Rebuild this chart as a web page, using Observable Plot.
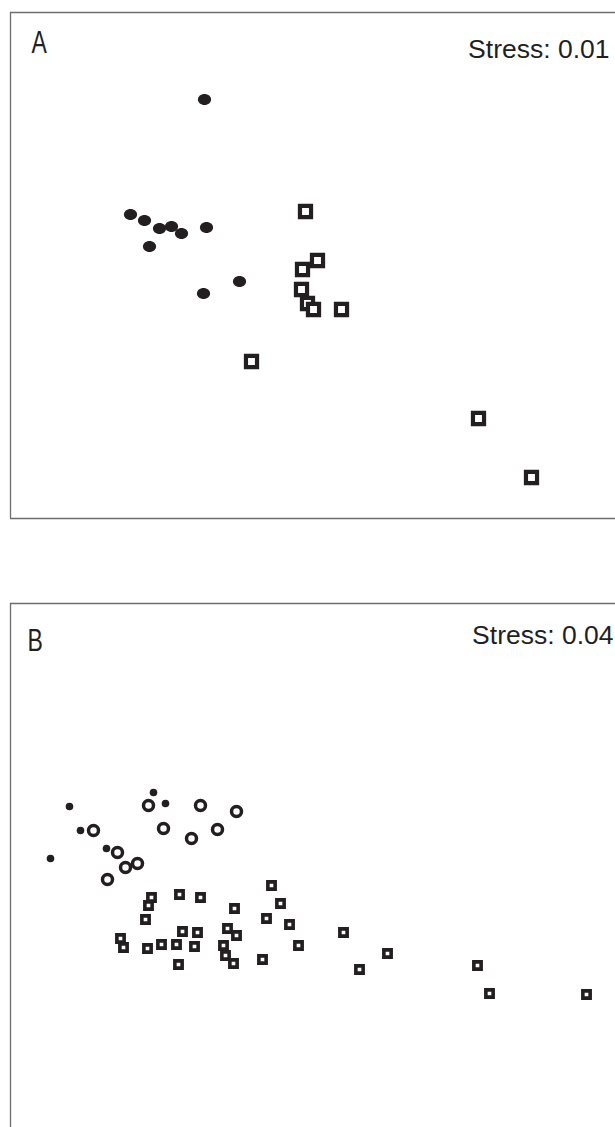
<!DOCTYPE html>
<html>
<head>
<meta charset="utf-8">
<script src="https://cdn.jsdelivr.net/npm/d3@7"></script>
<script src="https://cdn.jsdelivr.net/npm/@observablehq/plot@0.6"></script>
<style>
  html, body { margin: 0; padding: 0; background: #fff; }
  #chart svg { display: block; }
</style>
</head>
<body>
<div id="chart"></div>
<script>
// ---- Panel A (NMDS ordination, stress 0.01) ----
const panelALabel = "A";
const panelAStress = "Stress: 0.01";
const panelAFilled = [
  [-0.53, 0.83], [-0.90, 0.255], [-0.83, 0.225], [-0.755, 0.185], [-0.695, 0.195],
  [-0.645, 0.16], [-0.52, 0.19], [-0.805, 0.095], [-0.355, -0.08], [-0.535, -0.14]
];
const panelASquares = [
  [-0.025, 0.27], [0.035, 0.025], [-0.04, -0.02], [-0.045, -0.12], [-0.015, -0.19],
  [0.015, -0.22], [0.155, -0.22], [-0.295, -0.48], [0.84, -0.765], [1.105, -1.06]
];
const panelAXDomain = [-1.5, 1.525];
const panelAYDomain = [-1.265, 1.265];

// ---- Panel B (NMDS ordination, stress 0.04) ----
const panelBLabel = "B";
const panelBStress = "Stress: 0.04";
const panelBSmallDots = [
  [-1.205, 0.47], [-0.785, 0.54], [-0.725, 0.485], [-1.15, 0.35], [-1.30, 0.21], [-1.02, 0.26]
];
const panelBOpenCircles = [
  [-0.81, 0.475], [-0.55, 0.475], [-0.37, 0.445], [-1.085, 0.35], [-0.735, 0.36],
  [-0.465, 0.355], [-0.595, 0.31], [-0.965, 0.24], [-0.865, 0.185], [-0.925, 0.165],
  [-1.015, 0.105]
];
const panelBSquares = [
  [-0.795, 0.015], [-0.81, -0.025], [-0.825, -0.095], [-0.655, 0.03], [-0.55, 0.015],
  [-0.195, 0.075], [-0.38, -0.04], [-0.15, -0.015], [-0.22, -0.09], [-0.105, -0.12],
  [-0.64, -0.155], [-0.565, -0.16], [-0.415, -0.14], [-0.37, -0.175], [-0.95, -0.19],
  [-0.935, -0.235], [-0.815, -0.24], [-0.745, -0.22], [-0.67, -0.22], [-0.58, -0.23],
  [-0.435, -0.225], [-0.425, -0.275], [-0.385, -0.315], [-0.66, -0.32], [-0.24, -0.295],
  [-0.06, -0.225], [0.165, -0.16], [0.385, -0.265], [0.245, -0.345], [0.835, -0.325],
  [0.895, -0.465], [1.38, -0.47]
];
const panelBXDomain = [-1.5, 1.525];
const panelBYDomain = [-1.135, 1.485];

// ---- styles ----
const ink = "#231f20";
const frameGray = "#6d6e71";
const labelFont = "'Liberation Sans', Arial, sans-serif";
const stressFont = "'Liberation Sans', Arial, sans-serif";

// ellipse symbol (slightly wider than tall)
const ellipseSymbol = {
  draw(context, size) {
    const r = Math.sqrt(size / Math.PI);
    const rx = r * 1.08, ry = r * 0.9, k = 0.5523;
    context.moveTo(rx, 0);
    context.bezierCurveTo(rx, ry * k, rx * k, ry, 0, ry);
    context.bezierCurveTo(-rx * k, ry, -rx, ry * k, -rx, 0);
    context.bezierCurveTo(-rx, -ry * k, -rx * k, -ry, 0, -ry);
    context.bezierCurveTo(rx * k, -ry, rx, -ry * k, rx, 0);
    context.closePath();
  }
};

const px = d => d[0], py = d => d[1];

const plotA = Plot.plot({
  width: 615, height: 530,
  marginLeft: 10, marginRight: 0, marginTop: 12, marginBottom: 12,
  x: {domain: panelAXDomain, axis: null},
  y: {domain: panelAYDomain, axis: null},
  marks: [
    Plot.ruleX([panelAXDomain[0]], {stroke: frameGray, strokeWidth: 1.3}),
    Plot.ruleY(panelAYDomain, {stroke: frameGray, strokeWidth: 1.3}),
    Plot.text([panelALabel], {frameAnchor: "top-left", text: d => d, dx: 21, dy: 40, lineAnchor: "bottom",
      textAnchor: "start", fontSize: 32, fontFamily: labelFont, fill: ink}),
    Plot.text([panelAStress], {frameAnchor: "top-right", text: d => d, dx: -6, dy: 45, lineAnchor: "bottom",
      textAnchor: "end", fontSize: 26.5, fontFamily: stressFont, fill: ink}),
    Plot.dot(panelAFilled, {x: px, y: py, symbol: ellipseSymbol, r: 6.1, fill: ink, stroke: "none"}),
    Plot.dot(panelASquares, {x: px, y: py, symbol: "square", r: 6.25, fill: "white", stroke: ink, strokeWidth: 4.2})
  ]
});

const plotB = Plot.plot({
  width: 615, height: 597,
  marginLeft: 10, marginRight: 0, marginTop: 73, marginBottom: 0,
  x: {domain: panelBXDomain, axis: null},
  y: {domain: panelBYDomain, axis: null},
  marks: [
    Plot.ruleX([panelBXDomain[0]], {stroke: frameGray, strokeWidth: 1.3}),
    Plot.ruleY([panelBYDomain[1]], {stroke: frameGray, strokeWidth: 1.3}),
    Plot.text([panelBLabel], {frameAnchor: "top-left", text: d => d, dx: 17, dy: 47, lineAnchor: "bottom",
      textAnchor: "start", fontSize: 32, fontFamily: labelFont, fill: ink}),
    Plot.text([panelBStress], {frameAnchor: "top-right", text: d => d, dx: -2, dy: 40, lineAnchor: "bottom",
      textAnchor: "end", fontSize: 26.5, fontFamily: stressFont, fill: ink}),
    Plot.dot(panelBSmallDots, {x: px, y: py, r: 3.8, fill: ink, stroke: "none"}),
    Plot.dot(panelBOpenCircles, {x: px, y: py, r: 5, fill: "white", stroke: ink, strokeWidth: 3.5}),
    Plot.dot(panelBSquares, {x: px, y: py, symbol: "square", r: 4.1, fill: "white", stroke: ink, strokeWidth: 3.6})
  ]
});

// narrow the panel letters (condensed look of the original)
for (const [svg, label] of [[plotA, panelALabel], [plotB, panelBLabel]]) {
  svg.querySelectorAll("text").forEach(t => {
    if (t.textContent === label) {
      const tr = t.getAttribute("transform") || "";
      t.setAttribute("transform", tr + " scale(0.72,1)");
    }
  });
}

document.getElementById("chart").append(plotA, plotB);
</script>
</body>
</html>
